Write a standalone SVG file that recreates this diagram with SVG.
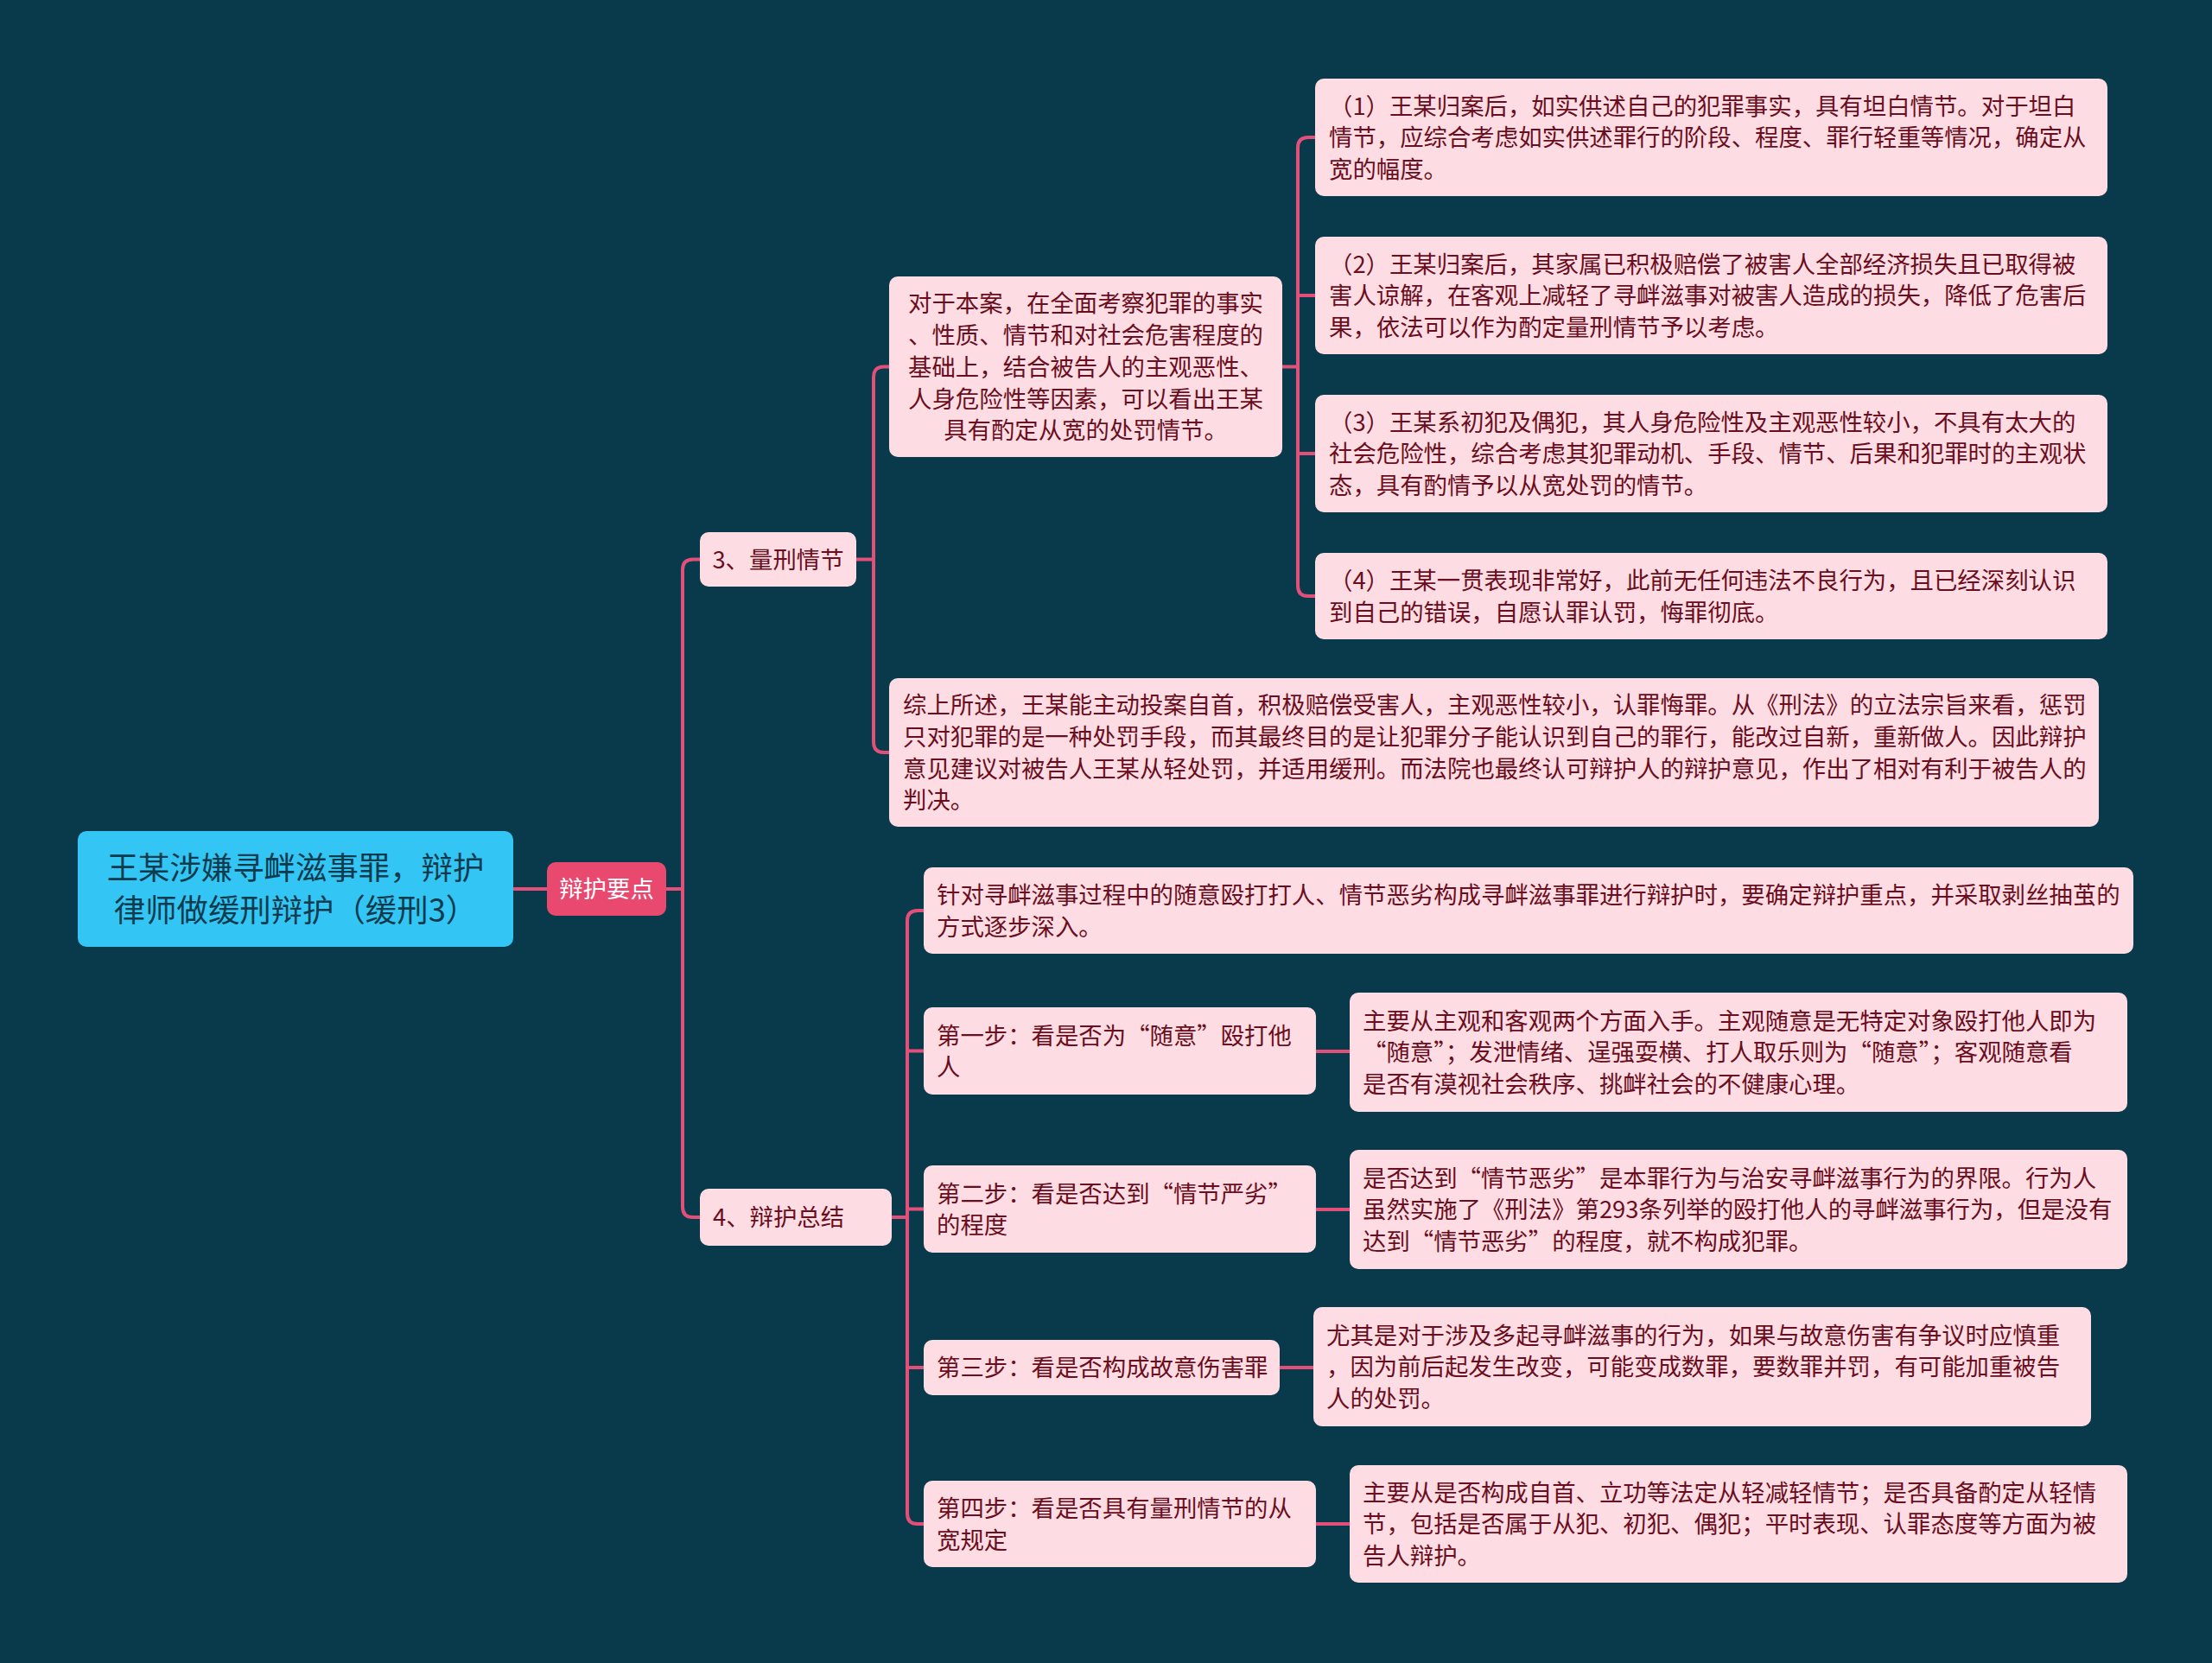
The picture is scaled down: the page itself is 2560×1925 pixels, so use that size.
<svg xmlns="http://www.w3.org/2000/svg" width="2560" height="1925" viewBox="0 0 2560 1925">
<style>
.pk{fill:#fddde3}
.t{font-family:"Noto Sans CJK SC","Noto Sans",sans-serif;font-size:27.4px;fill:#6b0d20}
.tc{text-anchor:middle}
.c{fill:none;stroke:#e2507a;stroke-width:4}
</style>
<rect width="2560" height="1925" fill="#083a4c"/>
<g id="connectors">
<path class="c" d="M594,1029H633"/>
<path class="c" d="M771,1029H790"/>
<path class="c" d="M810,647.5H802Q790,647.5 790,659.5V1397Q790,1409 802,1409H810"/>
<path class="c" d="M991,647.5H1011"/>
<path class="c" d="M1029,424.5H1023Q1011,424.5 1011,436.5V859Q1011,871 1023,871H1029"/>
<path class="c" d="M1484,424.5H1502"/>
<path class="c" d="M1522,159H1514Q1502,159 1502,171V678Q1502,690 1514,690H1522"/>
<path class="c" d="M1502,342H1522M1502,525H1522"/>
<path class="c" d="M1032,1409H1050"/>
<path class="c" d="M1069,1054H1062Q1050,1054 1050,1066V1752Q1050,1764 1062,1764H1069"/>
<path class="c" d="M1050,1216.5H1069M1050,1399.5H1069M1050,1583H1069"/>
<path class="c" d="M1523,1217H1562M1523,1400H1562M1481,1583H1520M1523,1764H1562"/>
</g>
<g id="root">
<rect x="90" y="962" width="504" height="134" rx="10" fill="#33c6f4"/>
<text class="t tc" style="font-size:36.4px;fill:#0f3b4e"><tspan x="342" y="1018">王某涉嫌寻衅滋事罪，辩护</tspan><tspan x="342" y="1067">律师做缓刑辩护（缓刑3）</tspan></text>
</g>
<g id="n-bhyd">
<rect x="633" y="998" width="138" height="62" rx="10" fill="#e9496f"/>
<text class="t tc" style="fill:#ffffff" x="702" y="1039">辩护要点</text>
</g>
<g id="n-lxqj">
<rect class="pk" x="810" y="616" width="181" height="63" rx="10"/>
<text class="t tc" x="900.5" y="658">3、量刑情节</text>
</g>
<g id="n-bhzj">
<rect class="pk" x="810" y="1376" width="222" height="66" rx="10"/>
<text class="t" x="825" y="1419">4、辩护总结</text>
</g>
<g id="n-dybn">
<rect class="pk" x="1029" y="320" width="455" height="209" rx="10"/>
<text class="t tc"><tspan x="1256.5" y="361.4">对于本案，在全面考察犯罪的事实</tspan><tspan x="1256.5" y="398.1">、性质、情节和对社会危害程度的</tspan><tspan x="1256.5" y="434.8">基础上，结合被告人的主观恶性、</tspan><tspan x="1256.5" y="471.5">人身危险性等因素，可以看出王某</tspan><tspan x="1256.5" y="508.2">具有酌定从宽的处罚情节。</tspan></text>
</g>
<g id="n-1">
<rect class="pk" x="1522" y="91" width="917" height="136" rx="10"/>
<text class="t"><tspan x="1538" y="132.6">（1）王某归案后，如实供述自己的犯罪事实，具有坦白情节。对于坦白</tspan><tspan x="1538" y="169.3">情节，应综合考虑如实供述罪行的阶段、程度、罪行轻重等情况，确定从</tspan><tspan x="1538" y="206">宽的幅度。</tspan></text>
</g>
<g id="n-2">
<rect class="pk" x="1522" y="274" width="917" height="136" rx="10"/>
<text class="t"><tspan x="1538" y="315.6">（2）王某归案后，其家属已积极赔偿了被害人全部经济损失且已取得被</tspan><tspan x="1538" y="352.3">害人谅解，在客观上减轻了寻衅滋事对被害人造成的损失，降低了危害后</tspan><tspan x="1538" y="389">果，依法可以作为酌定量刑情节予以考虑。</tspan></text>
</g>
<g id="n-3">
<rect class="pk" x="1522" y="457" width="917" height="136" rx="10"/>
<text class="t"><tspan x="1538" y="498.6">（3）王某系初犯及偶犯，其人身危险性及主观恶性较小，不具有太大的</tspan><tspan x="1538" y="535.3">社会危险性，综合考虑其犯罪动机、手段、情节、后果和犯罪时的主观状</tspan><tspan x="1538" y="572">态，具有酌情予以从宽处罚的情节。</tspan></text>
</g>
<g id="n-4">
<rect class="pk" x="1522" y="640" width="917" height="100" rx="10"/>
<text class="t"><tspan x="1538" y="681.9">（4）王某一贯表现非常好，此前无任何违法不良行为，且已经深刻认识</tspan><tspan x="1538" y="718.6">到自己的错误，自愿认罪认罚，悔罪彻底。</tspan></text>
</g>
<g id="n-zs">
<rect class="pk" x="1029" y="785" width="1400" height="172" rx="10"/>
<text class="t"><tspan x="1045" y="826.3">综上所述，王某能主动投案自首，积极赔偿受害人，主观恶性较小，认罪悔罪。从《刑法》的立法宗旨来看，惩罚</tspan><tspan x="1045" y="863">只对犯罪的是一种处罚手段，而其最终目的是让犯罪分子能认识到自己的罪行，能改过自新，重新做人。因此辩护</tspan><tspan x="1045" y="899.7">意见建议对被告人王某从轻处罚，并适用缓刑。而法院也最终认可辩护人的辩护意见，作出了相对有利于被告人的</tspan><tspan x="1045" y="936.4">判决。</tspan></text>
</g>
<g id="n-zd">
<rect class="pk" x="1069" y="1004" width="1400" height="100" rx="10"/>
<text class="t"><tspan x="1084" y="1045.9">针对寻衅滋事过程中的随意殴打打人、情节恶劣构成寻衅滋事罪进行辩护时，要确定辩护重点，并采取剥丝抽茧的</tspan><tspan x="1084" y="1082.6">方式逐步深入。</tspan></text>
</g>
<g id="n-s1">
<rect class="pk" x="1069" y="1166" width="454" height="101" rx="10"/>
<text class="t"><tspan x="1084" y="1208.5">第一步：看是否为“随意”殴打他</tspan><tspan x="1084" y="1245.2">人</tspan></text>
</g>
<g id="n-s1d">
<rect class="pk" x="1562" y="1149" width="900" height="138" rx="10"/>
<text class="t"><tspan x="1577" y="1191.6">主要从主观和客观两个方面入手。主观随意是无特定对象殴打他人即为</tspan><tspan x="1577" y="1228.3">“随意”；发泄情绪、逞强耍横、打人取乐则为“随意”；客观随意看</tspan><tspan x="1577" y="1265">是否有漠视社会秩序、挑衅社会的不健康心理。</tspan></text>
</g>
<g id="n-s2">
<rect class="pk" x="1069" y="1349" width="454" height="101" rx="10"/>
<text class="t"><tspan x="1084" y="1391.5">第二步：看是否达到“情节严劣”</tspan><tspan x="1084" y="1428.2">的程度</tspan></text>
</g>
<g id="n-s2d">
<rect class="pk" x="1562" y="1331" width="900" height="138" rx="10"/>
<text class="t"><tspan x="1577" y="1373.6">是否达到“情节恶劣”是本罪行为与治安寻衅滋事行为的界限。行为人</tspan><tspan x="1577" y="1410.3">虽然实施了《刑法》第293条列举的殴打他人的寻衅滋事行为，但是没有</tspan><tspan x="1577" y="1447">达到“情节恶劣”的程度，就不构成犯罪。</tspan></text>
</g>
<g id="n-s3">
<rect class="pk" x="1069" y="1551" width="412" height="64" rx="10"/>
<text class="t" x="1084" y="1593.3">第三步：看是否构成故意伤害罪</text>
</g>
<g id="n-s3d">
<rect class="pk" x="1520" y="1513" width="900" height="138" rx="10"/>
<text class="t"><tspan x="1535" y="1555.6">尤其是对于涉及多起寻衅滋事的行为，如果与故意伤害有争议时应慎重</tspan><tspan x="1535" y="1592.3">，因为前后起发生改变，可能变成数罪，要数罪并罚，有可能加重被告</tspan><tspan x="1535" y="1629">人的处罚。</tspan></text>
</g>
<g id="n-s4">
<rect class="pk" x="1069" y="1714" width="454" height="100" rx="10"/>
<text class="t"><tspan x="1084" y="1756">第四步：看是否具有量刑情节的从</tspan><tspan x="1084" y="1792.7">宽规定</tspan></text>
</g>
<g id="n-s4d">
<rect class="pk" x="1562" y="1696" width="900" height="136" rx="10"/>
<text class="t"><tspan x="1577" y="1737.6">主要从是否构成自首、立功等法定从轻减轻情节；是否具备酌定从轻情</tspan><tspan x="1577" y="1774.3">节，包括是否属于从犯、初犯、偶犯；平时表现、认罪态度等方面为被</tspan><tspan x="1577" y="1811">告人辩护。</tspan></text>
</g>
</svg>
